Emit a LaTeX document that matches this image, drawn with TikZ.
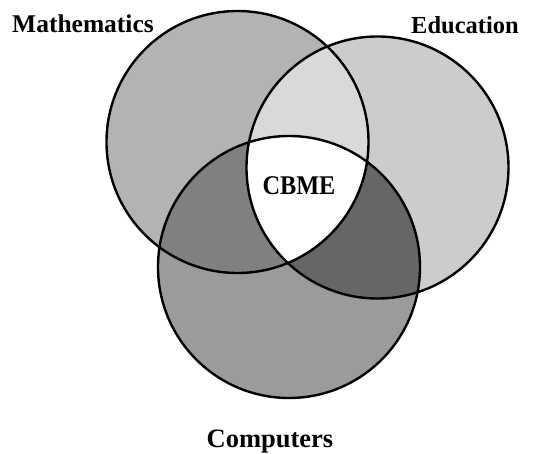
\documentclass[tikz,border=0pt]{standalone}
\usepackage{fontspec}
\setmainfont{Liberation Serif}
\definecolor{mathfill}{RGB}{179,179,179}
\definecolor{edufill}{RGB}{204,204,204}
\definecolor{compfill}{RGB}{155,155,155}
\definecolor{mathedu}{RGB}{217,217,217}
\definecolor{mathcomp}{RGB}{128,128,128}
\definecolor{educomp}{RGB}{102,102,102}
\begin{document}
\begin{tikzpicture}[x=1pt,y=-1pt,
  ring/.style={draw=black,line width=2.4pt},
  lbl/.style={font=\fontsize{25.5}{26}\selectfont\bfseries,inner sep=0pt,anchor=base}]
\useasboundingbox (0,0) rectangle (545,454);
\def\rad{131}
\coordinate (cm) at (237.5,142);
\coordinate (ce) at (377.5,167.5);
\coordinate (cc) at (289,267);
% single-set regions
\fill[mathfill] (cm) circle[radius=\rad];
\fill[edufill] (ce) circle[radius=\rad];
\fill[compfill] (cc) circle[radius=\rad];
% pairwise overlaps
\begin{scope}
  \clip (cm) circle[radius=\rad];
  \fill[mathedu] (ce) circle[radius=\rad];
\end{scope}
\begin{scope}
  \clip (cm) circle[radius=\rad];
  \fill[mathcomp] (cc) circle[radius=\rad];
\end{scope}
\begin{scope}
  \clip (ce) circle[radius=\rad];
  \fill[educomp] (cc) circle[radius=\rad];
\end{scope}
% triple overlap
\begin{scope}
  \clip (cm) circle[radius=\rad];
  \clip (ce) circle[radius=\rad];
  \fill[white] (cc) circle[radius=\rad];
\end{scope}
% outlines
\draw[ring] (cm) circle[radius=\rad];
\draw[ring] (ce) circle[radius=\rad];
\draw[ring] (cc) circle[radius=\rad];
% labels
\node[lbl] (math) at (83,33) {Mathematics};
\node[lbl,font=\fontsize{24.5}{25}\selectfont\bfseries] (edu) at (465,34) {Education};
\node[lbl,font=\fontsize{27}{27}\selectfont\bfseries,xscale=0.9] (cbme) at (299,194) {CBME};
\node[lbl,font=\fontsize{26.5}{27}\selectfont\bfseries] (comp) at (270,447) {Computers};
\end{tikzpicture}
\end{document}
